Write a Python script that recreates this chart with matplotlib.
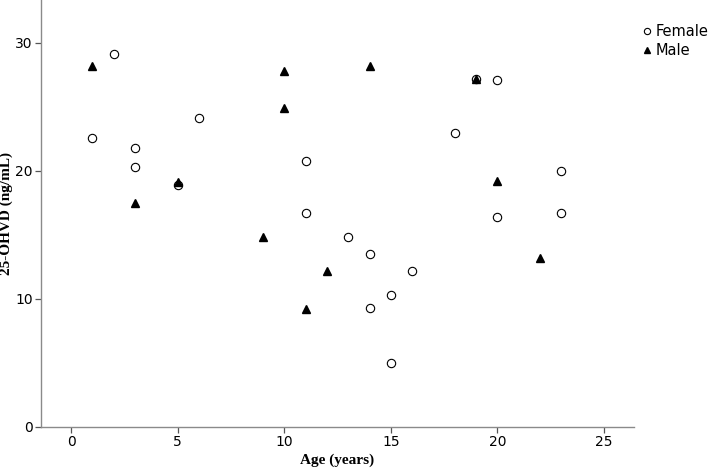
import matplotlib
matplotlib.use('Agg')
import matplotlib.pyplot as plt

# Female (open circles)
female_age = [1, 2, 3, 3, 5, 6, 11, 11, 13, 14, 14, 15, 15, 16, 18, 19, 20, 20, 23, 23]
female_vd = [22.6, 29.1, 21.8, 20.3, 18.9, 24.1, 20.8, 16.7, 14.8, 13.5, 9.3, 10.3, 5.0, 12.2, 23.0, 27.2, 27.1, 16.4, 20.0, 16.7]

# Male (filled triangles)
male_age = [1, 3, 5, 9, 10, 10, 11, 12, 14, 19, 20, 22]
male_vd = [28.2, 17.5, 19.1, 14.8, 27.8, 24.9, 9.2, 12.2, 28.2, 27.2, 19.2, 13.2]

x_ticks = [0, 5, 10, 15, 20, 25]
y_ticks = [0, 10, 20, 30]

fig = plt.figure(figsize=(7.11, 4.70), dpi=100)
ax = fig.add_axes([0.0577, 0.0921, 0.8333, 0.9079])

ax.plot(female_age, female_vd, linestyle='none', marker='o', markersize=6.0,
        markerfacecolor='white', markeredgecolor='black', markeredgewidth=0.8, label='Female')
ax.plot(male_age, male_vd, linestyle='none', marker='^', markersize=5.2,
        markerfacecolor='black', markeredgecolor='black', label='Male')

ax.set_xlim(-1.41, 26.38)
ax.set_ylim(0, 33.36)
ax.set_xticks(x_ticks)
ax.set_yticks(y_ticks)

for s in ['top', 'right']:
    ax.spines[s].set_visible(False)
for s in ['left', 'bottom']:
    ax.spines[s].set_color('#8a8a8a')
    ax.spines[s].set_linewidth(1.0)
ax.tick_params(direction='out', length=4, width=0.9, color='#555555',
               labelsize=10, pad=2)

ax.set_xlabel('Age (years)', fontfamily='Liberation Serif', fontweight='bold', fontsize=11, labelpad=3)
ax.set_ylabel('25-OHVD (ng/mL)', fontfamily='Liberation Serif', fontweight='bold', fontsize=11)
ax.yaxis.set_label_coords(-0.047, 0.5)

fig.legend(loc='upper left', bbox_to_anchor=(643 / 711, 1 - 24 / 470), frameon=False, fontsize=10.5,
           handlelength=0.5, handletextpad=0.35, labelspacing=0.3, borderaxespad=0, borderpad=0,
           markerscale=0.75)

plt.savefig('out.png', dpi=100)
